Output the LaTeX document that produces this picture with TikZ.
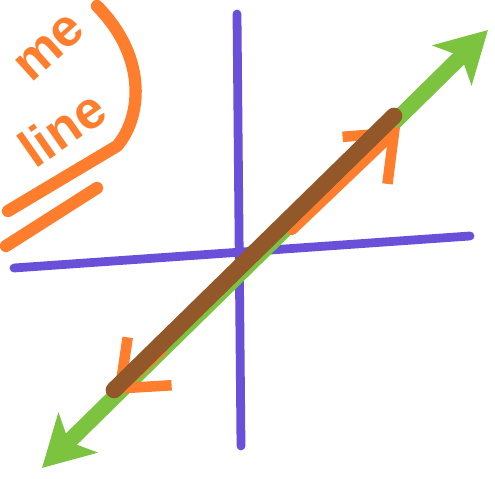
\documentclass[tikz,border=0pt]{standalone}
\usepackage{fontspec}
\setsansfont{Liberation Sans}
\usetikzlibrary{arrows.meta}
\definecolor{SketchPurple}{HTML}{6A50D8}
\definecolor{SketchGreen}{HTML}{7CC440}
\definecolor{SketchBrown}{HTML}{93582A}
\definecolor{SketchOrange}{HTML}{FF7E2E}

\begin{document}
\begin{tikzpicture}[
  x=0.02cm, y=-0.02cm,
  axis/.style={draw=SketchPurple, line width=5pt, line cap=round},
  mainline/.style={draw=SketchGreen, line width=9pt, line cap=round,
    {Stealth[length=1cm, width=1.1cm, inset=0.25cm]}-{Stealth[length=1cm, width=1.1cm, inset=0.25cm]}},
  segment/.style={draw=SketchBrown, line width=9.5pt, line cap=round},
  barb/.style={draw=SketchOrange, line width=6pt, line cap=round,
    -{Straight Barb[length=0.8cm, width=1.3cm, line width=6pt]}},
  stroke/.style={draw=SketchOrange, line width=7pt, line cap=round},
  scribble/.style={text=SketchOrange, inner sep=0pt,
    font=\sffamily\bfseries\fontsize{30}{30}\selectfont}
]
\useasboundingbox (0,0) rectangle (495,479);
\clip (0,0) rectangle (495,479);
% axes
\coordinate (ytop) at (237,14);
\coordinate (ybot) at (241,446);
\coordinate (xleft) at (14,268);
\coordinate (xright) at (470,236);
\draw[axis] (ytop) -- (ybot);
\draw[axis] (xleft) -- (xright);
% line through the origin
\coordinate (gsw) at (42,468);
\coordinate (gne) at (488,30);
\draw[mainline] (gsw) -- (gne);
% the part that is kept
\coordinate (osw1) at (162,350);
\coordinate (ose1) at (114,394);
\coordinate (one1) at (292,230);
\coordinate (one2) at (400,127);
\draw[barb] (osw1) -- (ose1);
\draw[barb] (one1) -- (one2);
\coordinate (bsw) at (114,390);
\coordinate (bne) at (394,116);
\draw[segment] (bsw) -- (bne);
% note in the corner
\node[scribble, rotate=42] (me) at (50,48) {me};
\node[scribble, rotate=35] (line) at (62,128) {line};
\draw[stroke] (97,6) .. controls (150,60) and (140,120) .. (117,146) -- (8,211);
\draw[stroke] (97,188) -- (6,246);
\end{tikzpicture}
\end{document}
